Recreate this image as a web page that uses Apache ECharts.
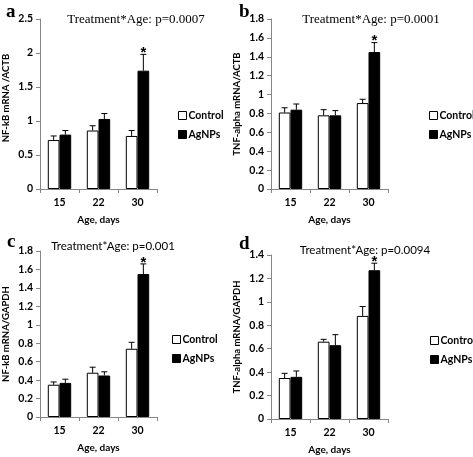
<!DOCTYPE html>
<html>
<head>
<meta charset="utf-8">
<script src="https://cdn.jsdelivr.net/npm/echarts@6/dist/echarts.min.js"></script>
<style>
html,body{margin:0;padding:0;background:#fff;}
#chart{width:473px;height:457px;}
</style>
</head>
<body>
<div id="chart"></div>
<script>
// ---- data ----
const ages = ['15', '22', '30'];
const seriesNames = ['Control', 'AgNPs'];

const aControl = [0.72, 0.86, 0.78];
const aControlErr = [0.06, 0.07, 0.08];
const aAgNPs = [0.80, 1.03, 1.74];
const aAgNPsErr = [0.06, 0.08, 0.24];
const aStar = [false, false, true];

const bControl = [0.81, 0.78, 0.91];
const bControlErr = [0.05, 0.06, 0.04];
const bAgNPs = [0.84, 0.78, 1.45];
const bAgNPsErr = [0.06, 0.05, 0.10];
const bStar = [false, false, true];

const cControl = [0.35, 0.48, 0.74];
const cControlErr = [0.03, 0.06, 0.07];
const cAgNPs = [0.37, 0.45, 1.55];
const cAgNPsErr = [0.04, 0.04, 0.11];
const cStar = [false, false, true];

const dControl = [0.35, 0.66, 0.88];
const dControlErr = [0.04, 0.02, 0.08];
const dAgNPs = [0.36, 0.63, 1.27];
const dAgNPsErr = [0.05, 0.09, 0.06];
const dStar = [false, false, true];

const yNames = ['NF-kB mRNA /ACTB', 'TNF-alpha mRNA/ACTB', 'NF-kB mRNA/GAPDH', 'TNF-alpha mRNA/GAPDH'];
const yMax = [2.5, 1.8, 1.8, 1.4];
const yStep = [0.5, 0.2, 0.2, 0.2];
const titles = ['Treatment*Age: p=0.0007', 'Treatment*Age: p=0.0001', 'Treatment*Age: p=0.001', 'Treatment*Age: p=0.0094'];
const panelLetters = ['a', 'b', 'c', 'd'];
const xName = 'Age, days';

// ---- layout / style ----
const panels = [
  {ctrl: aControl, ctrlErr: aControlErr, ag: aAgNPs, agErr: aAgNPsErr, star: aStar,
   grid: {left: 40, top: 19, width: 117, height: 170}, legend: {left: 173, top: 105},
   title: {left: 131, top: 8}, serif: true, letter: {left: 1, top: -2}, yPad: 12},
  {ctrl: bControl, ctrlErr: bControlErr, ag: bAgNPs, agErr: bAgNPsErr, star: bStar,
   grid: {left: 271, top: 19, width: 117, height: 170}, legend: {left: 424, top: 105},
   title: {left: 366, top: 8}, serif: true, letter: {left: 234, top: -2}, yPad: 0},
  {ctrl: cControl, ctrlErr: cControlErr, ag: cAgNPs, agErr: cAgNPsErr, star: cStar,
   grid: {left: 39, top: 251, width: 118, height: 166}, legend: {left: 167, top: 329},
   title: {left: 108, top: 235}, serif: false, letter: {left: 2, top: 228}, yPad: 0},
  {ctrl: dControl, ctrlErr: dControlErr, ag: dAgNPs, agErr: dAgNPsErr, star: dStar,
   grid: {left: 271, top: 255, width: 117, height: 164}, legend: {left: 425, top: 330},
   title: {left: 360, top: 239}, serif: false, letter: {left: 234, top: 230}, yPad: 0}
];

const sansFamily = 'Lato, Liberation Sans, Arial, sans-serif';
const sansBold = {fontFamily: sansFamily, fontWeight: 'bold', fontSize: 10.5, color: '#000'};
const axisGray = '#868686';

const option = {
  animation: false,
  backgroundColor: '#fff',
  title: [],
  legend: [],
  grid: [],
  xAxis: [],
  yAxis: [],
  series: []
};

function errRender(sign, starArr) {
  return function (params, api) {
    const i = api.value(0);
    const v = api.value(1);
    const e = api.value(2);
    const band = api.size([1, 0])[0];
    const base = api.coord([i, v]);
    const top = api.coord([i, v + e]);
    const x = base[0] + sign * band * 0.15;
    const cap = 3;
    const lineStyle = {stroke: '#000', lineWidth: 1};
    const children = [
      {type: 'line', shape: {x1: x, y1: base[1], x2: x, y2: top[1]}, style: lineStyle},
      {type: 'line', shape: {x1: x - cap, y1: top[1], x2: x + cap, y2: top[1]}, style: lineStyle}
    ];
    if (starArr && starArr[params.dataIndex]) {
      children.push({type: 'text', x: x, y: top[1] + 6,
        style: {text: '*', fill: '#000', font: 'bold 15px Liberation Sans, Arial, sans-serif',
          align: 'center', verticalAlign: 'bottom'}});
    }
    return {type: 'group', children: children};
  };
}

panels.forEach((p, k) => {
  option.grid.push(Object.assign({containLabel: false}, p.grid));
  option.xAxis.push({
    type: 'category', gridIndex: k, data: ages,
    name: xName, nameLocation: 'middle', nameGap: 26,
    nameTextStyle: Object.assign({}, sansBold, {fontSize: 10}),
    axisLine: {show: true, lineStyle: {color: axisGray, width: 1}},
    axisTick: {show: true, length: 4, lineStyle: {color: axisGray}},
    axisLabel: Object.assign({}, sansBold, {margin: 8})
  });
  option.yAxis.push({
    type: 'value', gridIndex: k, min: 0, max: yMax[k], interval: yStep[k],
    name: yNames[k], nameLocation: 'middle', nameGap: 29, nameRotate: 90,
    nameTextStyle: Object.assign({}, sansBold, {fontSize: 9.5, padding: [0, 0, 0, p.yPad]}),
    axisLine: {show: true, lineStyle: {color: axisGray, width: 1}},
    axisTick: {show: true, length: 4, lineStyle: {color: axisGray}},
    splitLine: {show: false},
    axisLabel: Object.assign({}, sansBold, {margin: 7})
  });
  option.title.push({
    text: titles[k], left: p.title.left, top: p.title.top, textAlign: 'center',
    textStyle: p.serif
      ? {fontFamily: 'Liberation Serif, Times New Roman, serif', fontWeight: 'normal', fontSize: 13, color: '#000'}
      : {fontFamily: sansFamily, fontWeight: 'normal', fontSize: 11.5, color: '#000'}
  });
  option.title.push({
    text: panelLetters[k], left: p.letter.left, top: p.letter.top,
    textStyle: {fontFamily: 'Liberation Serif, Times New Roman, serif', fontWeight: 'bold', fontSize: 19, color: '#000'}
  });
  option.legend.push({
    left: p.legend.left, top: p.legend.top, orient: 'vertical',
    itemWidth: 8, itemHeight: 8, itemGap: 8,
    textStyle: Object.assign({}, sansBold, {fontSize: 10.5, padding: [0, 0, 0, -3]}),
    data: [
      {name: 'Control', icon: 'rect', itemStyle: {color: '#fff', borderColor: '#000', borderWidth: 1}},
      {name: 'AgNPs', icon: 'rect', itemStyle: {color: '#000', borderColor: '#000', borderWidth: 1}}
    ]
  });
  option.series.push({
    name: 'Control', type: 'bar', xAxisIndex: k, yAxisIndex: k, data: p.ctrl,
    barWidth: '30%', barGap: '0%',
    itemStyle: {color: '#fff', borderColor: '#000', borderWidth: 1}
  });
  option.series.push({
    name: 'AgNPs', type: 'bar', xAxisIndex: k, yAxisIndex: k, data: p.ag,
    barWidth: '30%', barGap: '0%',
    itemStyle: {color: '#000', borderColor: '#000', borderWidth: 1}
  });
  option.series.push({
    name: 'Control', type: 'custom', xAxisIndex: k, yAxisIndex: k, z: 5,
    renderItem: errRender(-1, null),
    data: p.ctrl.map((v, i) => [i, v, p.ctrlErr[i]])
  });
  option.series.push({
    name: 'AgNPs', type: 'custom', xAxisIndex: k, yAxisIndex: k, z: 5,
    renderItem: errRender(1, p.star),
    data: p.ag.map((v, i) => [i, v, p.agErr[i]])
  });
});

const chart = echarts.init(document.getElementById('chart'), null, {renderer: 'canvas'});
chart.setOption(option);
</script>
</body>
</html>
